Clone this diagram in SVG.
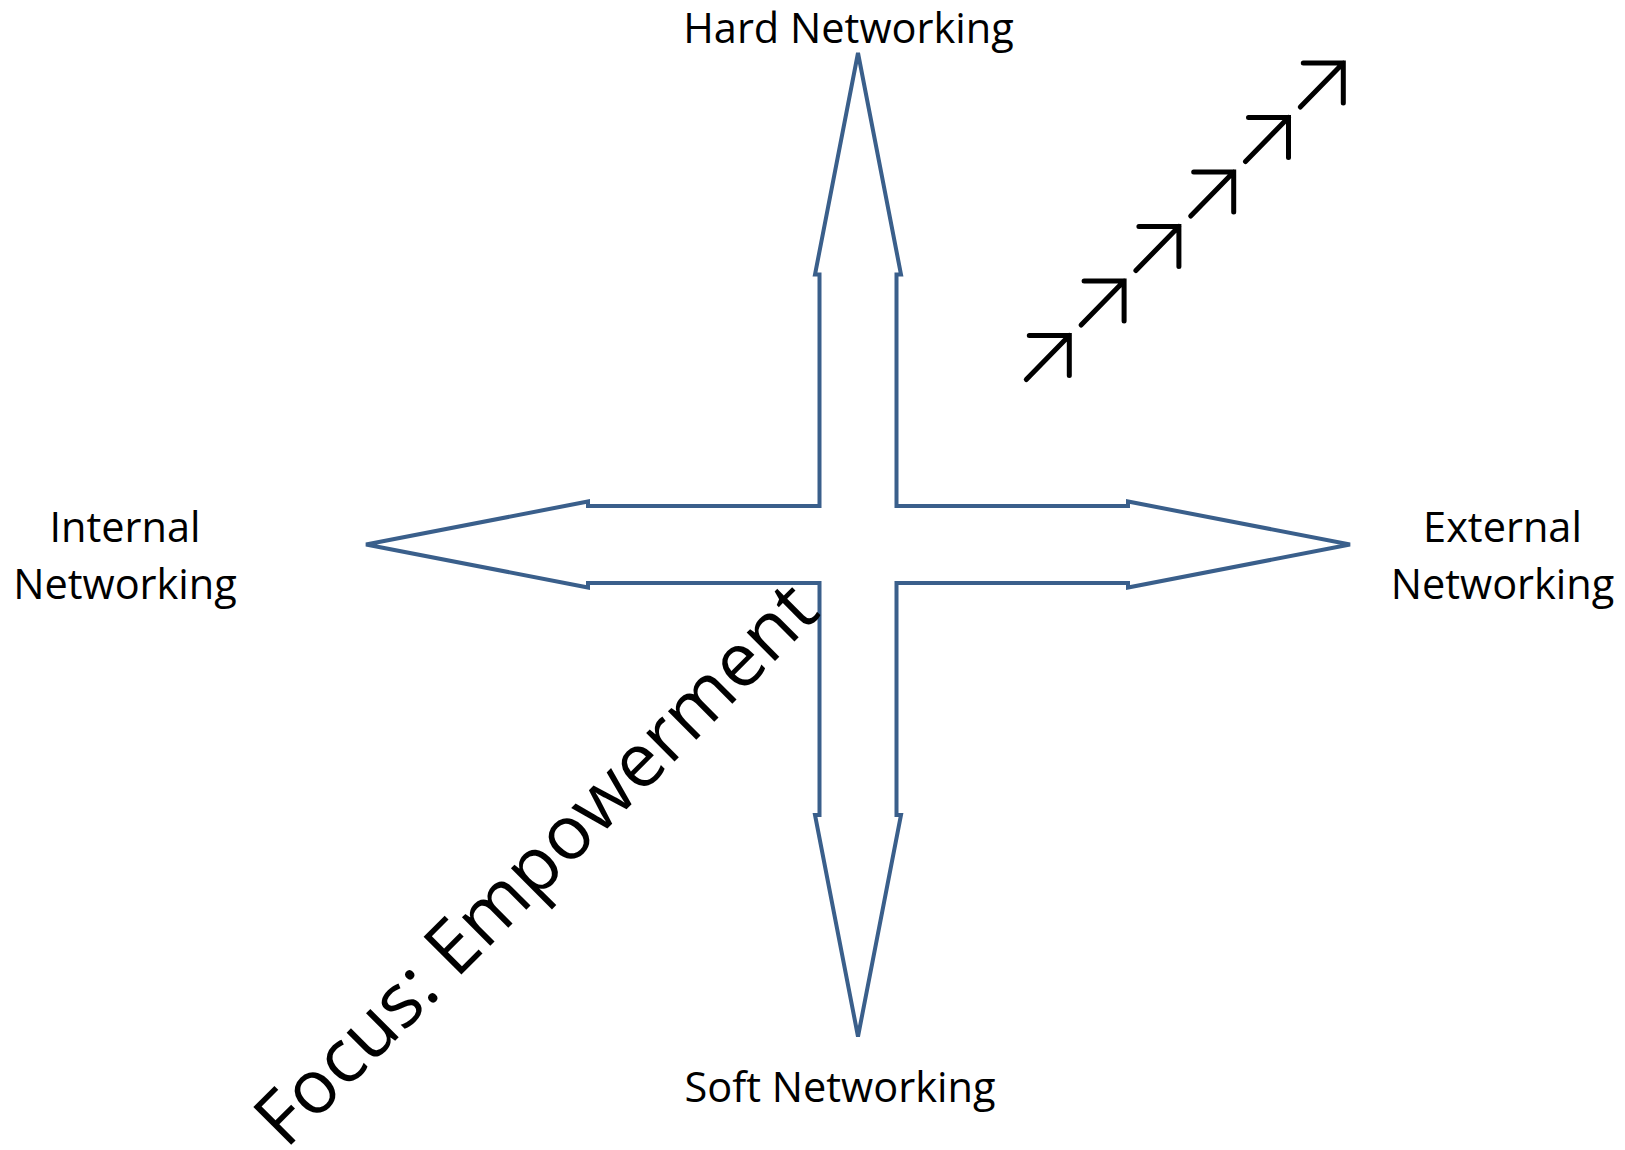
<svg xmlns="http://www.w3.org/2000/svg" width="1625" height="1150" viewBox="0 0 1625 1150">
  <style>
    .lbl { font-family: "Open Sans", "Noto Sans", "Liberation Sans", sans-serif; font-size: 41.5px; fill: #000; text-anchor: middle; }
    .focus { font-family: "Open Sans", "Noto Sans", "Liberation Sans", sans-serif; font-size: 75px; fill: #000; }
    .cross { fill: #fff; stroke: #3A5F8B; stroke-width: 4; stroke-linejoin: miter; }
    .up { fill: none; stroke: #000; stroke-width: 5; stroke-linecap: round; stroke-linejoin: miter; }
  </style>
  <defs>
    <path id="ar" d="M -43,44 L 0,0 M -40,0 L 0,0 L 0,40"/>
  </defs>
  <rect width="1625" height="1150" fill="#fff"/>

  <g id="cross">
    <polygon class="cross" points="858,53 901,274.5 896.5,274.5 896.5,506 1128,506 1128,501.5 1350,544.5 1128,587.5 1128,583 896.5,583 896.5,815 901,815 858,1036.5 815,815 819.5,815 819.5,583 588,583 588,587.5 366,544.5 588,501.5 588,506 819.5,506 819.5,274.5 815,274.5"/>
  </g>

  <g id="label-hard"><text class="lbl" x="848.5" y="43">Hard Networking</text></g>
  <g id="label-soft"><text class="lbl" x="840" y="1102">Soft Networking</text></g>
  <g id="label-internal"><text class="lbl" x="125" y="542">Internal</text><text class="lbl" x="125" y="599">Networking</text></g>
  <g id="label-external"><text class="lbl" x="1502.5" y="542">External</text><text class="lbl" x="1502.5" y="599">Networking</text></g>

  <g id="label-focus"><text class="focus" transform="translate(286,1150) rotate(-45)">Focus: Empowerment</text></g>

  <g id="arrows" class="up">
    <use href="#ar" transform="translate(1069.3,335.5)"/>
    <use href="#ar" transform="translate(1124.1,281)"/>
    <use href="#ar" transform="translate(1178.9,226.5)"/>
    <use href="#ar" transform="translate(1233.7,172)"/>
    <use href="#ar" transform="translate(1288.5,117.5)"/>
    <use href="#ar" transform="translate(1343.3,63)"/>
  </g>
</svg>
